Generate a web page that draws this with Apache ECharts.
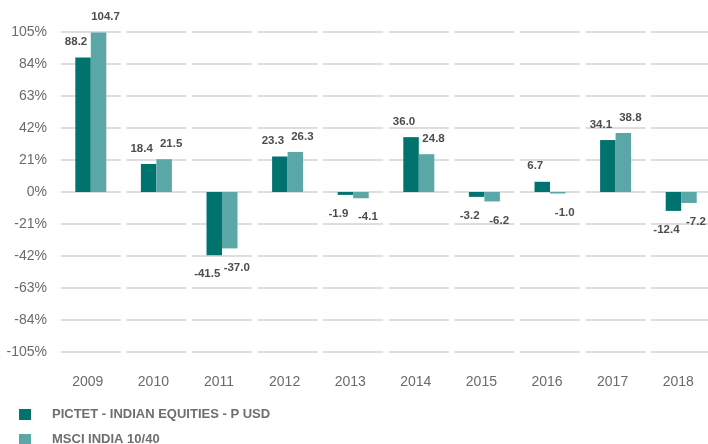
<!DOCTYPE html>
<html>
<head>
<meta charset="utf-8">
<script src="https://cdn.jsdelivr.net/npm/echarts@6/dist/echarts.min.js"></script>
<style>
  html, body { margin: 0; padding: 0; background: #fff; }
  #chart { width: 708px; height: 444px; }
</style>
</head>
<body>
<div id="chart"></div>
<script>
const years = ['2009', '2010', '2011', '2012', '2013', '2014', '2015', '2016', '2017', '2018']
const fundValues = [88.2, 18.4, -41.5, 23.3, -1.9, 36.0, -3.2, 6.7, 34.1, -12.4]
const indexValues = [104.7, 21.5, -37.0, 26.3, -4.1, 24.8, -6.2, -1.0, 38.8, -7.2]
const yTicks = [-105, -84, -63, -42, -21, 0, 21, 42, 63, 84, 105]
const seriesNames = ['PICTET - INDIAN EQUITIES - P USD', 'MSCI INDIA 10/40']

const colors = ['#00736E', '#5BA6A7']
const font = '"Liberation Sans", Arial, sans-serif'

// place value labels above / below the bar end, nudged sideways
function labelPlacer(values, dx) {
  return (params) => {
    const r = params.rect
    const v = values[params.dataIndex]
    return {
      x: r.x + r.width / 2 + dx,
      y: v < 0 ? r.y + r.height + 19 : r.y - 15.5,
      align: 'center',
      verticalAlign: 'middle'
    }
  }
}

function legendFor(name, top) {
  return {
    left: 14,
    top: top,
    itemWidth: 12,
    itemHeight: 11,
    icon: 'rect',
    selectedMode: false,
    data: [name],
    textStyle: {
      color: '#6e6e6e',
      fontSize: 13,
      fontWeight: 'bold',
      fontFamily: font,
      padding: [0, 0, 0, 16]
    }
  }
}

function barSeries(i, values, dx) {
  return {
    name: seriesNames[i],
    type: 'bar',
    z: 2,
    barWidth: 15.5,
    barGap: 0,
    itemStyle: { color: colors[i] },
    label: {
      show: true,
      position: 'top',
      color: '#4d4d4d',
      fontSize: 11.5,
      fontWeight: 'bold',
      fontFamily: font,
      formatter: (p) => p.value.toFixed(1)
    },
    labelLayout: labelPlacer(values, dx),
    data: values
  }
}

const chart = echarts.init(document.getElementById('chart'))

const option = {
  animation: false,
  color: colors,
  textStyle: { fontFamily: font },
  grid: { left: 58, right: -6, top: 32, bottom: 92, outerBoundsMode: 'none' },
  legend: [legendFor(seriesNames[0], 403), legendFor(seriesNames[1], 428)],
  xAxis: {
    type: 'category',
    data: years,
    axisLine: { show: false },
    axisTick: { show: false },
    axisLabel: {
      color: '#6b6b6b',
      fontSize: 14,
      margin: 23,
      padding: [0, 6, 0, 0],
      fontFamily: font
    },
    splitLine: { show: false }
  },
  yAxis: {
    type: 'value',
    min: -105,
    max: 105,
    interval: 21,
    axisLine: { show: false },
    axisTick: { show: false },
    splitLine: { show: false },
    axisLabel: {
      color: '#6b6b6b',
      fontSize: 14,
      margin: 11,
      fontFamily: font,
      formatter: (v) => v + '%'
    }
  },
  series: [
    {
      type: 'custom',
      silent: true,
      z: 1,
      data: years.map((y, i) => [i, 0]),
      encode: { x: 0, y: 1 },
      renderItem: (params, api) => {
        const idx = api.value(0)
        const children = yTicks.map((t) => {
          const p = api.coord([idx, t])
          return {
            type: 'line',
            shape: { x1: p[0] - 30, y1: p[1], x2: p[0] + 30, y2: p[1] },
            style: { stroke: '#dedede', lineWidth: 2 }
          }
        })
        return { type: 'group', children: children }
      }
    },
    barSeries(0, fundValues, -7),
    barSeries(1, indexValues, 7)
  ]
}

chart.setOption(option)
</script>
</body>
</html>
